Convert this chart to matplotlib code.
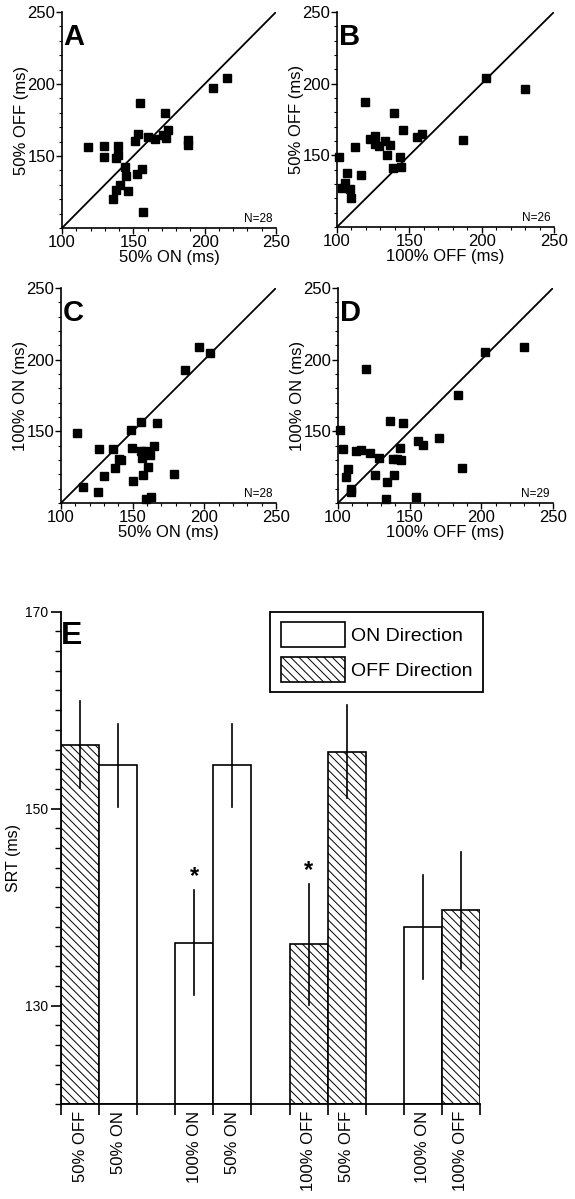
import matplotlib
matplotlib.use("Agg")
import matplotlib.pyplot as plt
from matplotlib.ticker import MultipleLocator
import matplotlib.patches as mpatches

plt.rcParams['font.family'] = ['Liberation Sans', 'DejaVu Sans']
plt.rcParams['hatch.linewidth'] = 0.7

# ---------------- data: scatter panels ----------------
a_x = [118.4, 129.2, 129.2, 139.0, 139.0, 137.6, 144.1, 144.8, 140.4, 138.0, 146.0, 135.7, 156.9, 152.7,
       156.4, 154.8, 151.3, 153.2, 160.0, 165.5, 170.9, 172.8, 174.6, 172.5, 188.6, 188.4, 205.9, 215.7]
a_y = [156.3, 157.0, 149.3, 157.2, 150.5, 148.6, 142.4, 136.1, 130.1, 126.6, 125.9, 119.9, 111.1, 137.7,
       141.0, 187.0, 160.2, 165.5, 163.2, 161.8, 164.4, 162.7, 167.8, 179.6, 160.9, 157.9, 197.2, 204.4]

b_x = [101.2, 103.5, 105.8, 107.1, 108.8, 109.4, 112.2, 116.4, 119.4, 122.8, 126.5, 126.0, 128.8,
       133.4, 134.8, 136.6, 138.5, 139.4, 143.3, 144.2, 145.4, 155.1, 159.0, 187.1, 203.0, 230.2]
b_y = [148.6, 126.9, 130.6, 137.9, 126.2, 120.1, 156.1, 136.0, 186.9, 161.4, 163.8, 157.7, 156.8,
       159.8, 150.2, 157.0, 140.9, 179.4, 149.1, 141.8, 168.0, 163.1, 165.2, 160.7, 204.0, 196.5]

c_x = [110.9, 126.3, 136.0, 115.6, 125.6, 129.8, 137.4, 140.7, 142.1, 148.6, 149.3, 150.2, 156.0, 155.6,
       156.5, 157.2, 160.7, 162.1, 160.7, 159.3, 162.8, 164.9, 167.2, 178.8, 186.5, 196.5, 203.7, 158.5]
c_y = [149.1, 137.5, 137.5, 110.9, 107.9, 118.5, 124.1, 130.8, 130.3, 150.9, 138.7, 115.3, 156.7, 136.3,
       131.7, 119.2, 135.0, 133.8, 125.0, 103.0, 104.2, 140.0, 155.6, 120.1, 192.6, 208.6, 204.9, 136.0]

d_x = [101.6, 103.7, 105.6, 107.2, 109.1, 109.3, 112.3, 116.3, 119.3, 122.6, 126.0, 128.6, 133.3, 134.2, 136.5,
       138.6, 139.1, 141.2, 143.3, 144.2, 145.1, 154.7, 155.8, 159.1, 170.5, 183.7, 186.7, 202.8, 229.8]
d_y = [150.8, 137.5, 117.8, 123.4, 110.1, 107.7, 136.6, 137.3, 193.4, 135.2, 119.2, 131.1, 102.8, 115.0, 157.0,
       130.4, 119.7, 130.4, 138.4, 129.9, 155.8, 104.0, 143.6, 140.3, 145.2, 175.4, 124.6, 205.4, 209.1]

panel_letters = ['A', 'B', 'C', 'D']
x_labels = ['50% ON (ms)', '100% OFF (ms)', '50% ON (ms)', '100% OFF (ms)']
y_labels = ['50% OFF (ms)', '50% OFF (ms)', '100% ON (ms)', '100% ON (ms)']
n_labels = ['N=28', 'N=26', 'N=28', 'N=29']
scatter_ticks = [100, 150, 200, 250]

# ---------------- data: bar panel ----------------
bar_labels = ['50% OFF', '50% ON', '100% ON', '50% ON', '100% OFF', '50% OFF', '100% ON', '100% OFF']
bar_values = [156.5, 154.4, 136.4, 154.4, 136.2, 155.8, 138.0, 139.7]
bar_errors = [4.4, 4.2, 5.3, 4.2, 6.1, 4.75, 5.3, 5.9]
bar_hatched = [True, False, False, False, True, True, False, True]
bar_signif = [False, False, True, False, True, False, False, False]
legend_labels = ['ON Direction', 'OFF Direction']

W, H = 575, 1199
fig = plt.figure(figsize=(W / 100, H / 100), dpi=100)

def fig_rect(left, top, right, bottom):
    return [left / W, 1 - bottom / H, (right - left) / W, (bottom - top) / H]

rects = [fig_rect(62, 12, 276, 228), fig_rect(337, 12, 554, 227),
         fig_rect(61, 288, 276, 503), fig_rect(338, 288, 553, 503)]
xs = [a_x, b_x, c_x, d_x]
ys = [a_y, b_y, c_y, d_y]

for i in range(4):
    ax = fig.add_axes(rects[i])
    ax.plot(xs[i], ys[i], linestyle='none', marker='s', markersize=5.2, color='black', clip_on=False, zorder=3)
    ax.plot([100, 250], [100, 250], color='black', lw=1.3)
    ax.set_xlim(100, 250)
    ax.set_ylim(100, 250)
    ax.set_xticks(scatter_ticks)
    ax.set_yticks(scatter_ticks[1:])
    ax.xaxis.set_minor_locator(MultipleLocator(10))
    ax.yaxis.set_minor_locator(MultipleLocator(10))
    for s in ['top', 'right']:
        ax.spines[s].set_visible(False)
    for s in ['left', 'bottom']:
        ax.spines[s].set_linewidth(1.2)
    ax.tick_params(which='major', length=4, width=1.0, labelsize=12, pad=1)
    ax.tick_params(which='minor', length=2.5, width=0.8)
    ax.set_xlabel(x_labels[i], fontsize=12, labelpad=0)
    ax.set_ylabel(y_labels[i], fontsize=12, labelpad=-1)
    ax.text(0.008, 0.847, panel_letters[i], transform=ax.transAxes, fontsize=21,
            fontweight='bold', ha='left', va='baseline')
    ax.text(0.985, 0.015, n_labels[i], transform=ax.transAxes, fontsize=8.5,
            ha='right', va='bottom')

# ---------------- bar panel E ----------------
axE = fig.add_axes(fig_rect(61, 611.7, 480, 1104))
pair_gap = 1.0
positions = []
x = 0.0
for g in range(len(bar_values) // 2):
    for k in range(2):
        positions.append(x + 0.5)
        x += 1.0
    x += pair_gap
right_end = positions[-1] + 0.5
edges = list(range(int(right_end) + 1))

for p, v, e, h, s in zip(positions, bar_values, bar_errors, bar_hatched, bar_signif):
    axE.bar(p, v - 120, bottom=120, width=1.0, facecolor='white', edgecolor='black',
            linewidth=1.2, hatch='\\\\\\\\' if h else None, zorder=2)
    axE.plot([p, p], [v - e, v + e], color='black', lw=1.2, zorder=3)
    if s:
        axE.text(p, v + e + 1.4, '*', fontsize=17, fontweight='bold', ha='center',
                 va='center', zorder=4)

axE.set_xlim(0, right_end)
axE.set_ylim(120, 170)
axE.set_yticks([130, 150, 170])
axE.yaxis.set_minor_locator(MultipleLocator(2))
axE.set_xticks(edges)
axE.set_xticklabels([])
axE.set_xticks(positions, bar_labels, minor=True, rotation=90, fontsize=12)
axE.tick_params(axis='x', which='major', length=8, width=1.2)
axE.tick_params(axis='x', which='minor', length=0, pad=5)
axE.tick_params(axis='y', which='major', length=7, width=1.2, labelsize=10, pad=2)
axE.tick_params(axis='y', which='minor', length=4, width=1.0)
for s in ['top', 'right']:
    axE.spines[s].set_visible(False)
for s in ['left', 'bottom']:
    axE.spines[s].set_linewidth(1.3)
axE.set_ylabel('SRT (ms)', fontsize=11.5, labelpad=3)
axE.text(0.005, 166.7, 'E', fontsize=23, fontweight='bold', ha='left', va='baseline')

handles = [mpatches.Patch(facecolor='white', edgecolor='black', linewidth=1.2),
           mpatches.Patch(facecolor='white', edgecolor='black', linewidth=1.2, hatch='\\\\\\\\')]
leg = axE.legend(handles, legend_labels, loc='upper right', fontsize=14,
                 bbox_to_anchor=(482.7 / W, 1 - 611.7 / H), bbox_transform=fig.transFigure,
                 borderaxespad=0, frameon=True, fancybox=False, edgecolor='black',
                 framealpha=1, handlelength=3.3, handleheight=1.55, handletextpad=0.3,
                 labelspacing=0.55, borderpad=0.55)
leg.get_frame().set_linewidth(1.3)

fig.savefig('out.png', dpi=100)
